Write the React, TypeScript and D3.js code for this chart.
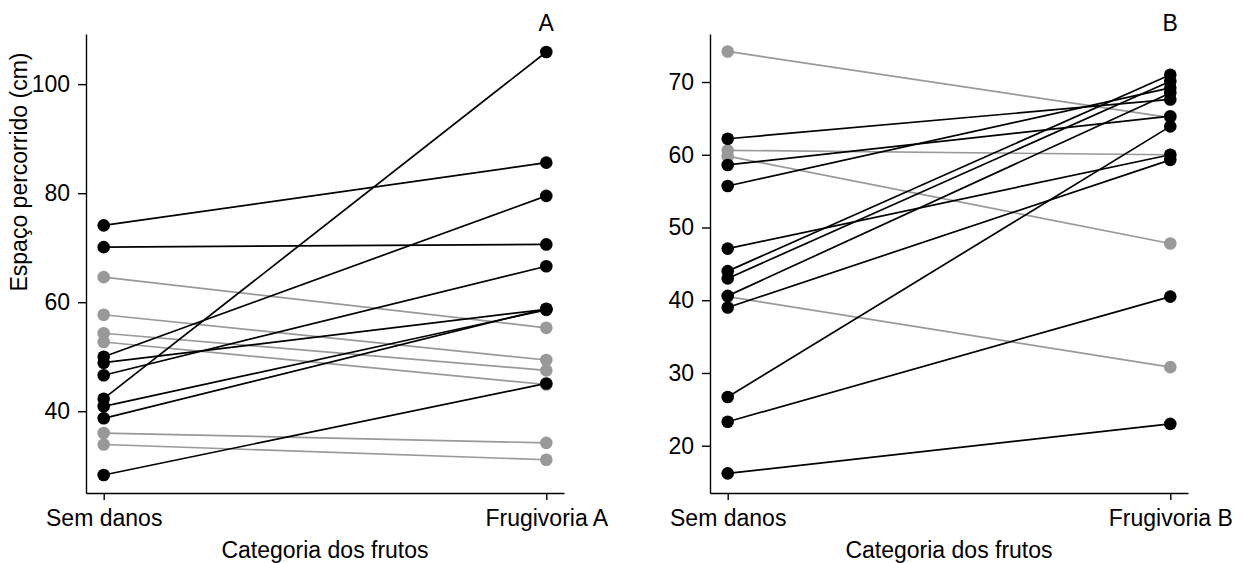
import * as d3 from "d3";
import { useRef, useEffect } from "react";

// painel A
const categoriesA = ["Sem danos", "Frugivoria A"];
const semDanosA = [74.1, 70.1, 64.6, 57.7, 54.3, 52.7, 50.0, 48.9, 46.6, 42.3, 40.9, 38.7, 36.0, 33.9, 28.3];
const frugivoriaA = [85.6, 70.6, 55.3, 49.4, 47.5, 44.9, 79.5, 58.7, 66.6, 105.9, 58.6, 58.8, 34.2, 31.1, 45.1];
const ticksA = [40, 60, 80, 100];
const domainA = [25, 109.2];

// painel B
const categoriesB = ["Sem danos", "Frugivoria B"];
const semDanosB = [74.2, 62.2, 60.6, 59.8, 58.6, 55.7, 47.1, 44.0, 43.0, 40.6, 40.5, 39.0, 26.7, 23.3, 16.2];
const frugivoriaB = [65.1, 67.6, 60.0, 47.8, 65.3, 69.2, 60.0, 71.0, 70.1, 68.5, 30.8, 59.3, 63.9, 40.5, 23.0];
const ticksB = [20, 30, 40, 50, 60, 70];
const domainB = [13.5, 76.6];

const FONT = "'Liberation Sans', Arial, Helvetica, sans-serif";
const GREY = "#999999";

function drawPanel(svg, { left, right, top, bottom, categories, before, after, ticks, domain, label }) {
  const g = svg.append("g");

  const x = d3.scalePoint().domain(categories).range([left, right]).padding(0.04);
  const y = d3.scaleLinear().domain(domain).range([bottom, top]);

  const pairs = before.map((v, i) => ({ a: v, b: after[i], up: after[i] >= v }));
  const ordered = [...pairs.filter(d => !d.up), ...pairs.filter(d => d.up)];

  // axes
  const yAxis = g.append("g")
    .attr("transform", `translate(${left},0)`)
    .call(d3.axisLeft(y).tickValues(ticks).tickSize(8).tickSizeOuter(0).tickPadding(8));
  const xAxis = g.append("g")
    .attr("transform", `translate(0,${bottom})`)
    .call(d3.axisBottom(x).tickSize(7).tickSizeOuter(0).tickPadding(10));

  [yAxis, xAxis].forEach(ax => {
    ax.selectAll("path, line").attr("stroke", "black").attr("stroke-width", 1.4);
    ax.selectAll("text").attr("font-family", FONT).attr("font-size", 23).attr("fill", "black");
  });

  // linhas
  g.append("g").selectAll("line")
    .data(ordered)
    .join("line")
    .attr("x1", x(categories[0]))
    .attr("x2", x(categories[1]))
    .attr("y1", d => y(d.a))
    .attr("y2", d => y(d.b))
    .attr("stroke", d => d.up ? "black" : GREY)
    .attr("stroke-width", 1.7);

  // pontos
  const pts = [];
  ordered.forEach(d => {
    pts.push({ cat: categories[0], v: d.a, up: d.up });
    pts.push({ cat: categories[1], v: d.b, up: d.up });
  });
  g.append("g").selectAll("circle")
    .data(pts)
    .join("circle")
    .attr("cx", d => x(d.cat))
    .attr("cy", d => y(d.v))
    .attr("r", 6.3)
    .attr("fill", d => d.up ? "black" : GREY);

  g.append("text")
    .attr("x", x(categories[1]))
    .attr("y", 31)
    .attr("text-anchor", "middle")
    .attr("font-family", FONT)
    .attr("font-size", 23)
    .text(label);

  g.append("text")
    .attr("x", (left + right) / 2)
    .attr("y", 558)
    .attr("text-anchor", "middle")
    .attr("font-family", FONT)
    .attr("font-size", 23)
    .text("Categoria dos frutos");
}

function App() {
  const svgRef = useRef(null);

  useEffect(() => {
    const svg = d3.select(svgRef.current);
    svg.selectAll("*").remove();

    drawPanel(svg, {
      left: 86, right: 564, top: 34, bottom: 493,
      categories: categoriesA, before: semDanosA, after: frugivoriaA,
      ticks: ticksA, domain: domainA, label: "A",
    });
    drawPanel(svg, {
      left: 710, right: 1188, top: 34, bottom: 493,
      categories: categoriesB, before: semDanosB, after: frugivoriaB,
      ticks: ticksB, domain: domainB, label: "B",
    });

    svg.append("text")
      .attr("transform", "translate(27,172) rotate(-90)")
      .attr("text-anchor", "middle")
      .attr("font-family", FONT)
      .attr("font-size", 23)
      .text("Espaço percorrido (cm)");
  }, []);

  return (
    <svg
      ref={svgRef}
      width={1248}
      height={563}
      style={{ position: "absolute", left: 0, top: 0, background: "white" }}
    />
  );
}

export default App;
